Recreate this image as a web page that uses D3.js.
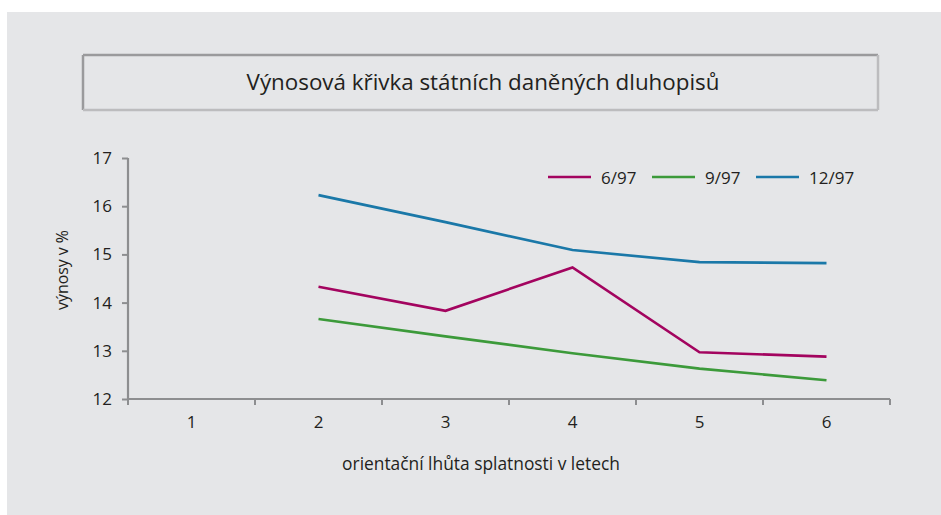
<!DOCTYPE html>
<html><head><meta charset="utf-8">
<script src="https://cdn.jsdelivr.net/npm/d3@7"></script>
<style>html,body{margin:0;padding:0;background:#fff;} svg{display:block;}</style>
</head><body>
<svg id="c" width="941" height="515"></svg>
<script>
const categories = ["1","2","3","4","5","6"];
const yTicks = [12,13,14,15,16,17];
const seriesNames = ["6/97","9/97","12/97"];
const colors = ["#a3045f","#3c9a3a","#1a78a8"];
const s697 = [null,14.33,13.83,14.73,12.97,12.88];
const s997 = [null,13.66,13.30,12.95,12.63,12.39];
const s1297 = [null,16.23,15.67,15.09,14.84,14.82];
const seriesValues = [s697,s997,s1297];
const title = "Výnosová křivka státních daněných dluhopisů";
const xTitle = "orientační lhůta splatnosti v letech";
const yTitle = "výnosy v %";

const FONT = "'Open Sans', 'DejaVu Sans', sans-serif";
const svg = d3.select("#c");
svg.append("rect").attr("x",7).attr("y",12).attr("width",934).attr("height",503).attr("fill","#e5e6e8");

// title box
const tb = {x:83,y:55,w:795,h:55};
const g0 = svg.append("g");
g0.append("line").attr("x1",tb.x).attr("y1",tb.y).attr("x2",tb.x+tb.w).attr("y2",tb.y).attr("stroke","#9a9a9c").attr("stroke-width",2.5);
g0.append("line").attr("x1",tb.x).attr("y1",tb.y).attr("x2",tb.x).attr("y2",tb.y+tb.h).attr("stroke","#9a9a9c").attr("stroke-width",2.5);
g0.append("line").attr("x1",tb.x).attr("y1",tb.y+tb.h).attr("x2",tb.x+tb.w).attr("y2",tb.y+tb.h).attr("stroke","#bcbcbe").attr("stroke-width",2.5);
g0.append("line").attr("x1",tb.x+tb.w).attr("y1",tb.y).attr("x2",tb.x+tb.w).attr("y2",tb.y+tb.h).attr("stroke","#bcbcbe").attr("stroke-width",2.5);

function fitText(sel, target){
  const w = sel.node().getComputedTextLength();
  const fs = parseFloat(sel.attr("font-size"));
  sel.attr("font-size", fs*target/w);
}
const tt = svg.append("text").attr("x",483).attr("y",90).attr("text-anchor","middle")
  .attr("font-family",FONT).attr("font-size",22).attr("fill","#231f20").text(title);
fitText(tt, 473);

const x = d3.scaleBand().domain(categories).range([128,890]);
const y = d3.scaleLinear().domain([12,17]).range([399,158]);

const axisColor = "#8d8e90";
const gx = svg.append("g").attr("transform","translate(0,399)")
  .call(d3.axisBottom(x).tickSize(0).tickPadding(0));
gx.select(".domain").remove();
gx.selectAll("text").attr("font-family",FONT).attr("font-size",17).attr("fill","#231f20").attr("y",24).attr("dy","0.32em");
// x boundary ticks
const bounds = categories.map(c=>x(c)).concat([x(categories[categories.length-1])+x.bandwidth()]);
svg.append("line").attr("x1",128).attr("x2",890).attr("y1",399).attr("y2",399).attr("stroke",axisColor).attr("stroke-width",2.2);
svg.selectAll(".xt").data(bounds).enter().append("line")
  .attr("x1",d=>d).attr("x2",d=>d).attr("y1",399).attr("y2",405).attr("stroke",axisColor).attr("stroke-width",2);

const gy = svg.append("g").attr("transform","translate(128,0)")
  .call(d3.axisLeft(y).tickValues(yTicks).tickSize(6).tickPadding(10).tickFormat(d3.format("d")));
gy.select(".domain").attr("stroke",axisColor).attr("stroke-width",2.2).attr("d","M0,158V399");
gy.selectAll(".tick line").attr("stroke",axisColor).attr("stroke-width",2);
gy.selectAll("text").attr("font-family",FONT).attr("font-size",17).attr("fill","#231f20");

// axis titles
const xt = svg.append("text").attr("x",481).attr("y",470).attr("text-anchor","middle")
  .attr("font-family",FONT).attr("font-size",16).attr("fill","#231f20").text(xTitle);
fitText(xt, 278);
const yt = svg.append("text").attr("transform","translate(68,270) rotate(-90)").attr("text-anchor","middle")
  .attr("font-family",FONT).attr("font-size",16).attr("fill","#231f20").text(yTitle);
fitText(yt, 80);

// lines
const line = d3.line().defined(d=>d.v!=null).x(d=>x(d.c)+x.bandwidth()/2).y(d=>y(d.v));
seriesValues.forEach((vals,i)=>{
  svg.append("path").datum(categories.map((c,j)=>({c:c,v:vals[j]})))
    .attr("d",line).attr("fill","none").attr("stroke",colors[i]).attr("stroke-width",2.6);
});

// legend
const legX = [548,652,756];
seriesNames.forEach((n,i)=>{
  svg.append("line").attr("x1",legX[i]).attr("x2",legX[i]+43).attr("y1",177).attr("y2",177)
    .attr("stroke",colors[i]).attr("stroke-width",2.6);
  svg.append("text").attr("x",legX[i]+53).attr("y",183.5).attr("font-family",FONT).attr("font-size",17)
    .attr("fill","#231f20").text(n);
});
</script>
</body></html>
